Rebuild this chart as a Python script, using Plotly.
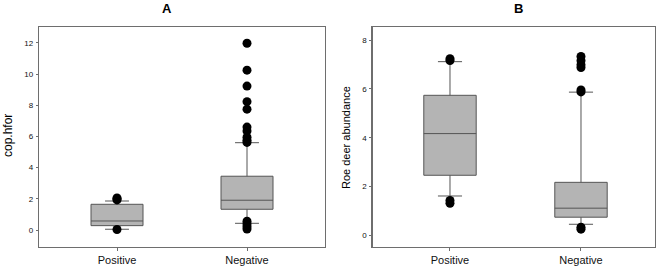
import plotly.graph_objects as go

categories = ["Positive", "Negative"]

# Panel A: cop.hfor
a_q1 = [0.28, 1.33]
a_median = [0.58, 1.91]
a_q3 = [1.65, 3.45]
a_lower = [0.05, 0.43]
a_upper = [1.86, 5.60]
a_out_pos = [0.03, 1.93, 2.0, 2.05]
a_out_neg = [11.98, 10.25, 9.23, 8.23, 7.75, 6.6, 6.35, 5.95, 5.75, 5.62, 0.57, 0.39, 0.21, 0.06]

# Panel B: Roe deer abundance
b_q1 = [2.46, 0.74]
b_median = [4.17, 1.11]
b_q3 = [5.74, 2.17]
b_lower = [1.61, 0.45]
b_upper = [7.12, 5.87]
b_out_pos = [7.17, 7.24, 1.31, 1.43]
b_out_neg = [7.33, 7.16, 6.99, 6.88, 5.96, 5.88, 0.33, 0.25]

FONT = "Liberation Sans, Arial, sans-serif"
BOX_FILL = "#b4b4b4"
BOX_LINE = "#555555"
FRAME = "#6e6e6e"

fig = go.Figure()

def add_panel(q1, med, q3, lo, hi, out_pos, out_neg, xa, ya):
    fig.add_trace(go.Box(
        x=categories, q1=q1, median=med, q3=q3, lowerfence=lo, upperfence=hi,
        fillcolor=BOX_FILL, line=dict(color=BOX_LINE, width=1),
        width=0.4, whiskerwidth=0.46, boxpoints=False,
        xaxis=xa, yaxis=ya, showlegend=False, hoverinfo="skip",
    ))
    xs = [categories[0]] * len(out_pos) + [categories[1]] * len(out_neg)
    fig.add_trace(go.Scatter(
        x=xs, y=out_pos + out_neg, mode="markers",
        marker=dict(color="black", size=9, line=dict(width=0)),
        xaxis=xa, yaxis=ya, showlegend=False, hoverinfo="skip",
    ))

add_panel(a_q1, a_median, a_q3, a_lower, a_upper, a_out_pos, a_out_neg, "x", "y")
add_panel(b_q1, b_median, b_q3, b_lower, b_upper, b_out_pos, b_out_neg, "x2", "y2")

W, H = 661, 270
ydom = [1 - 246.7 / H, 1 - 27.3 / H]

xcommon = dict(
    type="category", categoryorder="array", categoryarray=categories,
    showgrid=False, zeroline=False, showline=True, mirror=True,
    linecolor=FRAME, linewidth=1.3, ticks="outside", ticklen=3,
    tickcolor=FRAME, tickfont=dict(family=FONT, size=11, color="#111"),
    automargin=False, fixedrange=True,
)
ycommon = dict(
    showgrid=False, zeroline=False, showline=True, mirror=True,
    linecolor=FRAME, linewidth=1.3, ticks="outside", ticklen=2,
    tickcolor=FRAME, tickfont=dict(family=FONT, size=8, color="#111"),
    automargin=False, fixedrange=True, ticklabelstandoff=1,
)

fig.update_layout(
    width=W, height=H,
    margin=dict(l=0, r=0, t=0, b=0),
    paper_bgcolor="white", plot_bgcolor="white",
    xaxis=dict(domain=[39 / W, 325 / W], range=[-0.6, 1.6], anchor="y", **xcommon),
    yaxis=dict(domain=ydom, range=[-1.07, 13.0], tickvals=[0, 2, 4, 6, 8, 10, 12], anchor="x", **ycommon),
    xaxis2=dict(domain=[372.7 / W, 655 / W], range=[-0.59, 1.565], anchor="y2", **xcommon),
    yaxis2=dict(domain=ydom, range=[-0.47, 8.53], tickvals=[0, 2, 4, 6, 8], anchor="x2", **ycommon),
    annotations=[
        dict(text="<b>A</b>", x=167 / W, y=1 - 8 / H, xref="paper", yref="paper",
             showarrow=False, font=dict(family=FONT, size=13, color="black"),
             xanchor="center", yanchor="middle"),
        dict(text="<b>B</b>", x=518 / W, y=1 - 8 / H, xref="paper", yref="paper",
             showarrow=False, font=dict(family=FONT, size=13, color="black"),
             xanchor="center", yanchor="middle"),
        dict(text="cop.hfor", x=8 / W, y=1 - 136 / H, xref="paper", yref="paper",
             textangle=-90, showarrow=False, font=dict(family=FONT, size=12, color="black"),
             xanchor="center", yanchor="middle"),
        dict(text="Roe deer abundance", x=346 / W, y=1 - 138 / H, xref="paper", yref="paper",
             textangle=-90, showarrow=False, font=dict(family=FONT, size=11, color="black"),
             xanchor="center", yanchor="middle"),
    ],
)

fig.write_html(
    "out.html",
    config={"displayModeBar": False, "staticPlot": True},
    post_script="document.body.style.margin='0';document.body.style.overflow='hidden';",
)
